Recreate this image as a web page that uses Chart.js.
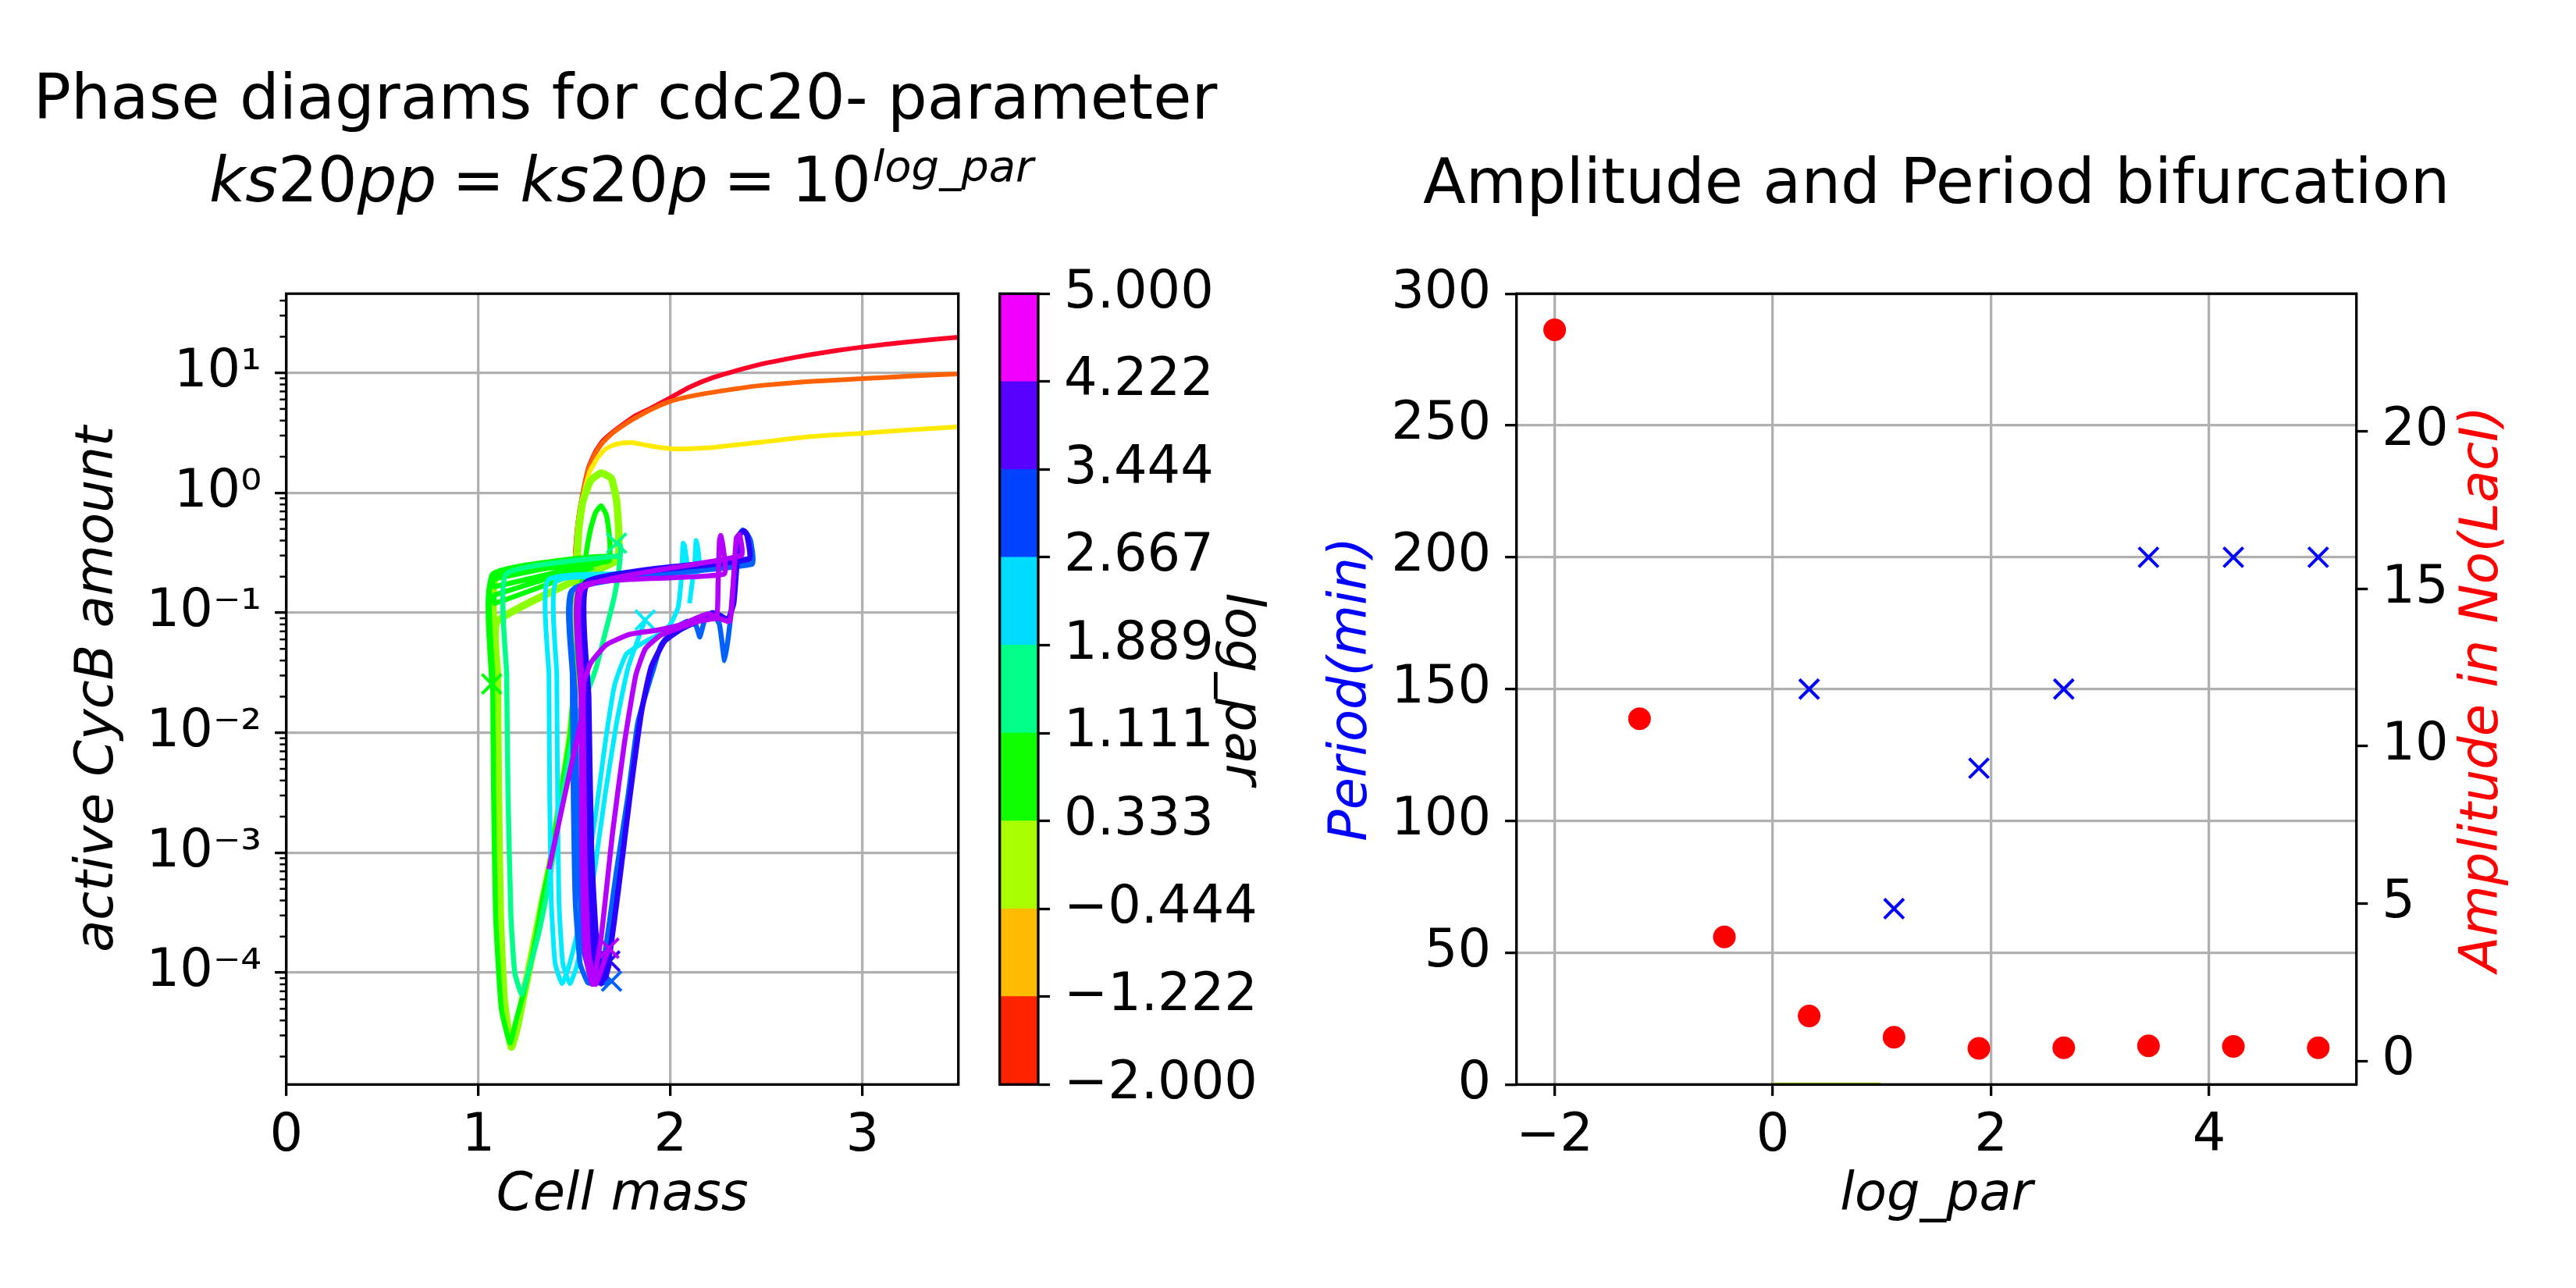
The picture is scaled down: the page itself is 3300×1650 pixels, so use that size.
<!DOCTYPE html>
<html>
<head>
<meta charset="utf-8">
<script src="https://cdn.jsdelivr.net/npm/chart.js@4.4.1/dist/chart.umd.min.js"></script>
<style>
html,body{margin:0;padding:0;background:#fff;width:3300px;height:1650px;overflow:hidden}
canvas{position:absolute;top:0}
</style>
</head>
<body>
<canvas id="phase" width="1650" height="1650" style="left:0px;width:1650px;height:1650px"></canvas>
<canvas id="cbar" width="400" height="1650" style="left:1250px;width:400px;height:1650px"></canvas>
<canvas id="bif" width="1650" height="1650" style="left:1650px;width:1650px;height:1650px"></canvas>
<script>
// ---------------- data ----------------
const logPar = [-2, -1.222, -0.444, 0.333, 1.111, 1.889, 2.667, 3.444, 4.222, 5];
const periodMin = [null, null, null, 150, 66.7, 120, 150, 200, 200, 200];
const amplitudeLacI = [23.23, 10.87, 3.94, 1.43, 0.75, 0.40, 0.42, 0.48, 0.46, 0.42];
const flatSegX = [0, 0.99];
const flatSegY = [0, 0];
const cbBounds = [-2, -1.222, -0.444, 0.333, 1.111, 1.889, 2.667, 3.444, 4.222, 5];

const massTicks = [0, 1, 2, 3];
const cycBTicks = [1e-4, 1e-3, 1e-2, 1e-1, 1, 10];
const logParTicks = [-2, 0, 2, 4];
const periodTicks = [0, 50, 100, 150, 200, 250, 300];
const ampTicks = [0, 5, 10, 15, 20];

// phase trajectories [cell mass, active CycB]
const traj_m2000 = [[1.50,0.22],[1.51,0.40],[1.524,0.65],[1.55,1.10],[1.574,1.62],[1.61,2.20],[1.648,2.70],[1.70,3.20],[1.748,3.66],[1.82,4.40],[1.897,5.06],[2.00,6.20],[2.10,7.60],[2.22,9.10],[2.35,10.5],[2.47,11.8],[2.60,13.0],[2.72,14.1],[2.86,15.3],[3.00,16.4],[3.25,18.2],[3.50,19.8]];
const traj_m1222 = [[1.50,0.22],[1.51,0.40],[1.524,0.64],[1.55,1.08],[1.574,1.58],[1.61,2.15],[1.648,2.62],[1.70,3.15],[1.75,3.60],[1.80,4.05],[1.90,4.95],[2.00,5.78],[2.10,6.35],[2.22,6.88],[2.35,7.40],[2.47,7.84],[2.72,8.45],[3.00,8.94],[3.25,9.40],[3.50,9.80]];
const traj_m0444 = [[1.50,0.22],[1.52,0.50],[1.549,0.975],[1.58,1.50],[1.624,1.99],[1.66,2.30],[1.698,2.48],[1.75,2.60],[1.80,2.62],[1.86,2.52],[1.922,2.42],[2.00,2.33],[2.05,2.32],[2.22,2.39],[2.47,2.64],[2.72,2.93],[3.00,3.14],[3.25,3.35],[3.50,3.55]];
const traj_p0333 = [[1.72,0.27],[1.10,0.085],[1.10,0.03],[1.105,3.0e-3],[1.115,3.0e-4],[1.135,6.0e-5],[1.172,2.4e-5],[1.205,3.6e-5],[1.233,6.0e-5],[1.287,1.6e-4],[1.341,4.4e-4],[1.382,9.3e-4],[1.436,3.3e-3],[1.477,8.9e-3],[1.504,0.024],[1.510,0.089],[1.514,0.24],[1.524,0.51],[1.544,0.84],[1.585,1.26],[1.639,1.46],[1.693,1.32],[1.721,0.84],[1.732,0.44],[1.721,0.28],[1.095,0.20],[1.095,0.032],[1.10,3.2e-3],[1.11,3.2e-4],[1.13,6.3e-5],[1.172,2.4e-5],[1.21,4.0e-5],[1.233,6.2e-5],[1.287,1.65e-4],[1.341,4.5e-4]];
const traj_p1111 = [[1.60,0.24],[1.085,0.12],[1.085,0.14],[1.66,0.27],[1.08,0.165],[1.08,0.19],[1.686,0.30],[1.075,0.21],[1.075,0.03],[1.08,3.0e-3],[1.09,3.0e-4],[1.12,5.0e-5],[1.165,2.6e-5],[1.20,4.2e-5],[1.233,6.5e-5],[1.29,1.6e-4],[1.341,4.6e-4],[1.368,7.3e-4],[1.436,3.5e-3],[1.48,0.010],[1.50,0.030],[1.53,0.12],[1.56,0.30],[1.585,0.50],[1.61,0.68],[1.639,0.78],[1.666,0.66],[1.68,0.48],[1.686,0.35],[1.68,0.27],[1.07,0.19],[1.07,0.0255]];
const traj_p1889 = [[1.74,0.30],[1.145,0.21],[1.148,0.03],[1.155,3.0e-3],[1.17,3.0e-4],[1.19,1.0e-4],[1.226,6.6e-5],[1.26,1.0e-4],[1.314,2.1e-4],[1.368,5.7e-4],[1.423,2.0e-3],[1.477,6.9e-3],[1.52,0.014],[1.558,0.0198],[1.612,0.034],[1.666,0.073],[1.707,0.133],[1.734,0.24],[1.741,0.36],[1.72,0.38]];
const traj_p2667 = [[2.10,0.12],[2.127,0.26],[2.134,0.40],[2.142,0.36],[2.146,0.22],[1.368,0.19],[1.368,0.03],[1.372,3.0e-3],[1.38,4.0e-4],[1.40,1.2e-4],[1.436,8.1e-5],[1.47,1.1e-4],[1.517,2.2e-4],[1.56,6.0e-4],[1.61,2.0e-3],[1.66,8.0e-3],[1.71,0.025],[1.77,0.045],[1.856,0.056],[1.94,0.066],[2.00,0.080],[2.04,0.11],[2.058,0.20],[2.066,0.38],[2.075,0.36],[2.082,0.20],[1.409,0.185],[1.409,0.03],[1.413,3.0e-3],[1.42,4.0e-4],[1.44,1.2e-4],[1.477,8.1e-5],[1.51,1.1e-4],[1.56,2.5e-4],[1.61,8.0e-4],[1.66,3.0e-3],[1.72,0.012],[1.78,0.035],[1.869,0.087]];
const traj_p3444 = [[2.425,0.254],[1.49,0.155],[1.49,0.03],[1.495,3.0e-3],[1.505,4.0e-4],[1.53,1.2e-4],[1.57,8.3e-5],[1.612,8.1e-5],[1.66,1.5e-4],[1.721,7.3e-4],[1.78,3.0e-3],[1.83,0.012],[1.883,0.024],[1.91,0.033],[1.952,0.054],[2.019,0.073],[2.087,0.085],[2.134,0.078],[2.154,0.063],[2.181,0.089],[2.222,0.098],[2.256,0.080],[2.283,0.040],[2.31,0.080],[2.33,0.19],[2.357,0.44],[2.378,0.49],[2.398,0.46],[2.418,0.40],[2.425,0.254],[1.50,0.16],[1.505,0.02],[1.52,1.0e-3],[1.55,1.5e-4],[1.60,8.5e-5],[1.65,8.2e-5],[1.694,8.5e-5]];
const traj_p4222 = [[2.41,0.28],[1.56,0.18],[1.56,0.03],[1.565,3.0e-3],[1.575,4.0e-4],[1.60,1.2e-4],[1.64,8.1e-5],[1.68,1.3e-4],[1.73,5.0e-4],[1.79,3.0e-3],[1.85,0.015],[1.90,0.035],[1.97,0.058],[2.05,0.072],[2.12,0.082],[2.18,0.092],[2.22,0.10],[2.26,0.095],[2.30,0.088],[2.33,0.12],[2.35,0.30],[2.365,0.46],[2.385,0.48],[2.40,0.44],[2.41,0.28],[1.57,0.175],[1.575,0.02],[1.59,1.0e-3],[1.62,1.5e-4],[1.66,9.0e-5],[1.685,1.25e-4]];
const traj_p5000 = [[1.368,7.3e-4],[1.45,3.0e-3],[1.50,7.0e-3],[1.544,0.0147],[1.55,0.026],[1.585,0.038],[1.666,0.054],[1.788,0.066],[1.938,0.072],[2.06,0.080],[2.127,0.089],[2.195,0.098],[2.242,0.093],[2.249,0.18],[2.256,0.40],[2.263,0.44],[2.274,0.36],[2.28,0.21],[1.531,0.165],[1.535,0.02],[1.54,1.0e-3],[1.555,1.5e-4],[1.595,8.0e-5],[1.64,2.0e-4],[1.70,1.5e-3],[1.76,8.0e-3],[1.82,0.030],[1.87,0.050],[1.95,0.065],[2.05,0.075],[2.15,0.085],[2.25,0.090],[2.31,0.085],[2.33,0.20],[2.344,0.42],[2.36,0.45],[2.37,0.30],[1.544,0.16],[1.546,0.02],[1.555,1.0e-3],[1.575,1.5e-4],[1.61,8.0e-5],[1.66,1.3e-4],[1.68,1.6e-4]];

const trajectories = [traj_m2000, traj_m1222, traj_m0444, traj_p0333, traj_p1111, traj_p1889, traj_p2667, traj_p3444, traj_p4222, traj_p5000];

// ---------------- styles ----------------
const trajColors = ['#ff0029','#ff6000','#ffea00','#8cff00','#00ff00','#00ff89','#00ebff','#0061ff','#2a00ff','#b400ff'];
const trajWidths = [6, 6, 6, 9.5, 6.5, 6.5, 6, 6.5, 7, 6.5];
const trajMarker = [false, false, false, false, true, true, true, true, true, true];
const cbColors = ['#ff2300','#ffbc00','#a8ff00','#0fff00','#00ff89','#00dcff','#0042ff','#5700ff','#f200ff'];

const FAM = "'DejaVu Sans', 'Noto Sans', sans-serif";
Chart.defaults.font.family = FAM;
Chart.defaults.color = '#000';
const TICK = 67, TITLE = 80;
const GRID = '#b0b0b0';

const setTicks = arr => s => { s.ticks = arr.map(v => ({ value: v })); };
const minusFmt = v => (v < 0 ? '\u2212' : '') + Math.abs(v);
const SUP = {'0':'\u2070','1':'\u00b9','2':'\u00b2','3':'\u00b3','4':'\u2074','5':'\u2075','6':'\u2076','7':'\u2077','8':'\u2078','9':'\u2079','-':'\u207b'};
const pow10Label = v => '10' + String(Math.round(Math.log10(v))).split('').map(c => SUP[c]).join('');

const boxPlugin = {
  id: 'box',
  afterDatasetsDraw(chart) {
    const { ctx, chartArea: a } = chart;
    ctx.save();
    ctx.strokeStyle = '#000';
    ctx.lineWidth = 3.3;
    ctx.strokeRect(a.left, a.top, a.right - a.left, a.bottom - a.top);
    ctx.restore();
  }
};

const minorTicks = {
  id: 'minorTicks',
  afterDatasetsDraw(chart) {
    const { ctx, chartArea: a } = chart;
    const y = chart.scales.y;
    ctx.save();
    ctx.strokeStyle = '#000';
    ctx.lineWidth = 2.5;
    for (let n = -6; n <= 2; n++) {
      for (let k = 2; k <= 9; k++) {
        const v = k * Math.pow(10, n);
        if (v < y.min || v > y.max) continue;
        const py = y.getPixelForValue(v);
        ctx.beginPath();
        ctx.moveTo(a.left - 8.3, py);
        ctx.lineTo(a.left, py);
        ctx.stroke();
      }
    }
    ctx.restore();
  }
};

function drawRuns(ctx, runs, cx, baseline) {
  let total = 0;
  runs.forEach(r => {
    ctx.font = (r.it ? 'italic ' : '') + r.size + 'px ' + FAM;
    r.w = ctx.measureText(r.t).width;
    total += r.w + (r.gap || 0);
  });
  let x = cx - total / 2;
  ctx.textAlign = 'left';
  ctx.textBaseline = 'alphabetic';
  runs.forEach(r => {
    x += r.gap || 0;
    ctx.font = (r.it ? 'italic ' : '') + r.size + 'px ' + FAM;
    ctx.fillText(r.t, x, baseline - (r.dy || 0));
    x += r.w;
  });
}

const phaseTitle = {
  id: 'phaseTitle',
  afterDraw(chart) {
    const ctx = chart.ctx;
    ctx.save();
    ctx.fillStyle = '#000';
    ctx.font = TITLE + 'px ' + FAM;
    ctx.textAlign = 'center';
    ctx.textBaseline = 'alphabetic';
    ctx.fillText('Phase diagrams for cdc20- parameter', 801, 152);
    drawRuns(ctx, [
      { t: 'ks', it: true, size: TITLE },
      { t: '20', size: TITLE },
      { t: 'pp', it: true, size: TITLE },
      { t: '=', size: TITLE, gap: 20 },
      { t: 'ks', it: true, size: TITLE, gap: 20 },
      { t: '20', size: TITLE },
      { t: 'p', it: true, size: TITLE },
      { t: '=', size: TITLE, gap: 20 },
      { t: '10', size: TITLE, gap: 20 },
      { t: 'log_par', it: true, size: 56, dy: 26, gap: 2 }
    ], 796, 258);
    ctx.restore();
  }
};

const bifTitle = {
  id: 'bifTitle',
  afterDraw(chart) {
    const ctx = chart.ctx;
    const a = chart.chartArea;
    ctx.save();
    ctx.fillStyle = '#000';
    ctx.font = TITLE + 'px ' + FAM;
    ctx.textAlign = 'center';
    ctx.textBaseline = 'alphabetic';
    ctx.fillText('Amplitude and Period bifurcation', (a.left + a.right) / 2, 260);
    ctx.translate(1532, (a.top + a.bottom) / 2);
    ctx.rotate(-Math.PI / 2);
    ctx.font = 'italic ' + TICK + 'px ' + FAM;
    ctx.fillStyle = '#ff0000';
    ctx.textBaseline = 'middle';
    ctx.fillText('Amplitude in No(LacI)', 0, 0);
    ctx.restore();
  }
};

const gridOpts = { color: GRID, lineWidth: 3.3, tickColor: '#000', tickLength: 14.6, tickWidth: 3.3 };

// ---------------- phase diagram ----------------
new Chart(document.getElementById('phase'), {
  type: 'line',
  data: {
    datasets: trajectories.map((t, i) => ({
      label: 'log_par = ' + logPar[i],
      data: t.map(([x, y]) => ({ x, y })),
      borderColor: trajColors[i],
      backgroundColor: trajColors[i],
      borderWidth: trajWidths[i],
      pointStyle: 'crossRot',
      pointRadius: ctx => (trajMarker[i] && ctx.dataIndex === t.length - 1) ? 17.7 : 0,
      pointBorderWidth: 4,
      pointBorderColor: trajColors[i],
      pointHoverRadius: 0,
      tension: 0.15,
      fill: false,
      order: 10 - i
    }))
  },
  options: {
    responsive: false, animation: false, devicePixelRatio: 1, events: [],
    layout: { padding: { left: 0, right: 422.3, top: 376.2, bottom: 0 } },
    plugins: { legend: { display: false }, tooltip: { enabled: false } },
    scales: {
      x: {
        type: 'linear', min: 0, max: 3.5,
        afterBuildTicks: setTicks(massTicks),
        afterFit: s => { s.height = 260.7; },
        grid: gridOpts, border: { display: false },
        ticks: { font: { size: TICK }, padding: 12, maxRotation: 0, autoSkip: false, callback: v => minusFmt(v) },
        title: { display: true, text: 'Cell mass', font: { size: TICK, style: 'italic' }, padding: { top: 0, bottom: 77 } }
      },
      y: {
        type: 'logarithmic', min: 1.17e-5, max: 45.7,
        afterBuildTicks: setTicks(cycBTicks),
        afterFit: s => { s.width = 366.7; },
        grid: gridOpts, border: { display: false },
        ticks: { font: { size: TICK }, padding: 17, autoSkip: false, callback: v => pow10Label(v) },
        title: { display: true, text: 'active CycB amount', font: { size: TICK, style: 'italic' }, padding: { top: 86.8, bottom: 0 } }
      }
    }
  },
  plugins: [minorTicks, boxPlugin, phaseTitle]
});

// ---------------- colour bar ----------------
new Chart(document.getElementById('cbar'), {
  type: 'bar',
  data: {
    labels: ['log_par'],
    datasets: cbColors.map((c, i) => ({
      label: cbBounds[i] + ' to ' + cbBounds[i + 1],
      data: [[cbBounds[i], cbBounds[i + 1]]],
      backgroundColor: c,
      borderWidth: 0,
      barPercentage: 1,
      categoryPercentage: 1,
      grouped: false
    }))
  },
  options: {
    responsive: false, animation: false, devicePixelRatio: 1, events: [],
    layout: { padding: { left: 30.7, right: 0, top: 376.2, bottom: 260.7 } },
    plugins: { legend: { display: false }, tooltip: { enabled: false } },
    scales: {
      x: { display: false },
      y: {
        type: 'linear', position: 'right', min: -2, max: 5,
        afterBuildTicks: setTicks(cbBounds),
        afterFit: s => { s.width = 320; },
        grid: { drawOnChartArea: false, tickColor: '#000', tickLength: 15, tickWidth: 3.3 },
        border: { display: false },
        ticks: { font: { size: TICK }, padding: 18, autoSkip: false, callback: v => (v < 0 ? '\u2212' : '') + Math.abs(v).toFixed(3) },
        title: { display: true, text: 'log_par', font: { size: TICK, style: 'italic' }, padding: { top: 21.8, bottom: 0 } }
      }
    }
  },
  plugins: [boxPlugin]
});

// ---------------- bifurcation ----------------
new Chart(document.getElementById('bif'), {
  type: 'line',
  data: {
    datasets: [
      {
        label: 'Period(min)',
        data: logPar.map((x, i) => ({ x, y: periodMin[i] })),
        yAxisID: 'y', showLine: false,
        pointStyle: 'crossRot', pointRadius: 17.7, pointBorderWidth: 4,
        pointBorderColor: '#0000ff', borderColor: '#0000ff', backgroundColor: '#0000ff',
        order: 2
      },
      {
        label: 'Amplitude in No(LacI)',
        data: logPar.map((x, i) => ({ x, y: amplitudeLacI[i] })),
        yAxisID: 'y2', showLine: false,
        pointStyle: 'circle', pointRadius: 14.5, pointBorderWidth: 0,
        borderColor: '#ff0000', backgroundColor: '#ff0000',
        order: 1
      },
      {
        label: 'segment',
        data: flatSegX.map((x, i) => ({ x, y: flatSegY[i] })),
        yAxisID: 'y', borderColor: '#aaf000', borderWidth: 5, pointRadius: 0,
        order: 3
      }
    ]
  },
  options: {
    responsive: false, animation: false, devicePixelRatio: 1, events: [],
    layout: { padding: { left: 0, right: 0, top: 376.2, bottom: 0 } },
    plugins: { legend: { display: false }, tooltip: { enabled: false } },
    scales: {
      x: {
        type: 'linear', min: -2.35, max: 5.35,
        afterBuildTicks: setTicks(logParTicks),
        afterFit: s => { s.height = 260.7; },
        grid: gridOpts, border: { display: false },
        ticks: { font: { size: TICK }, padding: 12, maxRotation: 0, autoSkip: false, callback: v => minusFmt(v) },
        title: { display: true, text: 'log_par', font: { size: TICK, style: 'italic' }, padding: { top: 0, bottom: 77 } }
      },
      y: {
        type: 'linear', position: 'left', min: 0, max: 300,
        afterBuildTicks: setTicks(periodTicks),
        afterFit: s => { s.width = 292.7; },
        grid: gridOpts, border: { display: false },
        ticks: { font: { size: TICK }, padding: 18, autoSkip: false, callback: v => minusFmt(v) },
        title: { display: true, text: 'Period(min)', color: '#0000ff', font: { size: TICK, style: 'italic' }, padding: { top: 42.8, bottom: 0 } }
      },
      y2: {
        type: 'linear', position: 'right', min: -0.75, max: 24.38,
        afterBuildTicks: setTicks(ampTicks),
        afterFit: s => { s.width = 281.3; },
        grid: { drawOnChartArea: false, tickColor: '#000', tickLength: 14.6, tickWidth: 3.3 },
        border: { display: false },
        ticks: { font: { size: TICK }, padding: 18, autoSkip: false, callback: v => minusFmt(v) },
        title: { display: false }
      }
    }
  },
  plugins: [boxPlugin, bifTitle]
});
</script>
</body>
</html>
